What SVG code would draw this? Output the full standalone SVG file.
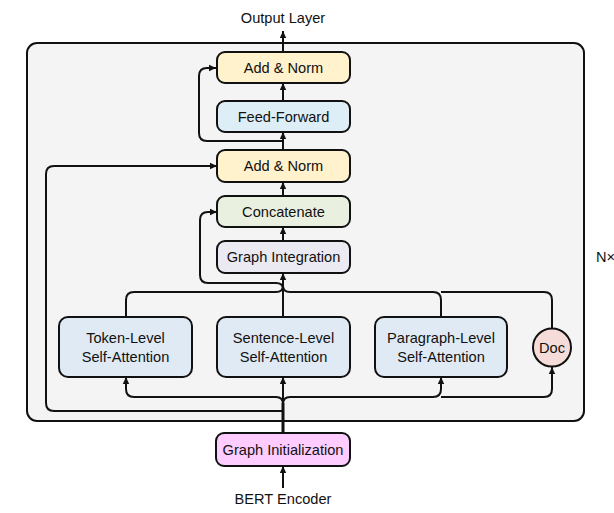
<svg xmlns="http://www.w3.org/2000/svg" width="614" height="513" viewBox="0 0 614 513">
<style>
.box{stroke:#111;stroke-width:2}
.t{font-family:"Liberation Sans",Arial,sans-serif;font-size:14.6px;fill:#111;text-anchor:middle;dominant-baseline:central}
.c{fill:none;stroke:#111;stroke-width:2}
</style>
<defs>
<marker id="ah" markerUnits="userSpaceOnUse" markerWidth="8" markerHeight="8" refX="7" refY="4" orient="auto">
<path d="M0,0.8 L7,4 L0,7.2 z" fill="#111"/>
</marker>
</defs>
<rect id="container" x="27" y="43" width="557" height="378" rx="10" fill="#f4f4f4" stroke="#111" stroke-width="2"/>
<text class="t" x="596" y="257" style="text-anchor:start">N×</text>
<text class="t" x="283" y="18">Output Layer</text>
<text class="t" x="283" y="499">BERT Encoder</text>
<g id="connectors">
<path class="c" d="M283,52 V31" marker-end="url(#ah)"/>
<path class="c" d="M283,101 V83" marker-end="url(#ah)"/>
<path class="c" d="M283,141 H207 Q199,141 199,133 V76 Q199,68 207,68 H216" marker-end="url(#ah)"/>
<path class="c" d="M283,150 V132" marker-end="url(#ah)"/>
<path class="c" d="M283,196 V182" marker-end="url(#ah)"/>
<path class="c" d="M283,241 V227" marker-end="url(#ah)"/>
<path class="c" d="M283,317 V273" marker-end="url(#ah)"/>
<path class="c" d="M283,289 Q283,283 276,283 H208 Q200,283 200,275 V220 Q200,212 208,212 H217" marker-end="url(#ah)"/>
<path class="c" d="M126,317 V300 Q126,292 134,292 H276 Q283,292 283,286"/>
<path class="c" d="M441,317 V300 Q441,292 433,292 H290 Q283,292 283,286"/>
<path class="c" d="M552,328 V300 Q552,292 544,292 H441"/>
<path class="c" d="M283,433 V403" style="stroke-width:3"/>
<path class="c" d="M283,404 V377" marker-end="url(#ah)"/>
<path class="c" d="M283,404 Q283,397 276,397 H134 Q126,397 126,389 V377" marker-end="url(#ah)"/>
<path class="c" d="M283,404 Q283,397 290,397 H433 Q441,397 441,389 V377" marker-end="url(#ah)"/>
<path class="c" d="M441,397 H544 Q552,397 552,389 V367" marker-end="url(#ah)"/>
<path class="c" d="M283,411 H54 Q46,411 46,403 V174 Q46,166 54,166 H217" marker-end="url(#ah)"/>
<path class="c" d="M283,488 V466" marker-end="url(#ah)"/>
</g>
<g id="add-norm-top"><rect class="box" x="217" y="52" width="133" height="31" rx="8" fill="#fff2cc"/><text class="t" x="283.5" y="67.5">Add &amp; Norm</text></g>
<g id="feed-forward"><rect class="box" x="217" y="101" width="133" height="31" rx="8" fill="#ddeef6"/><text class="t" x="283.5" y="116.5">Feed-Forward</text></g>
<g id="add-norm-mid"><rect class="box" x="217" y="150" width="133" height="32" rx="8" fill="#fff2cc"/><text class="t" x="283.5" y="166">Add &amp; Norm</text></g>
<g id="concatenate"><rect class="box" x="217" y="196" width="133" height="31" rx="8" fill="#e9f0df"/><text class="t" x="283.5" y="211.5">Concatenate</text></g>
<g id="graph-integration"><rect class="box" x="217" y="241" width="133" height="32" rx="8" fill="#ebe9f2"/><text class="t" x="283.5" y="257">Graph Integration</text></g>
<g id="token-level"><rect class="box" x="59" y="317" width="133" height="60" rx="9" fill="#dfeaf5"/><text class="t" x="125.5" y="337.5">Token-Level</text><text class="t" x="125.5" y="356.5">Self-Attention</text></g>
<g id="sentence-level"><rect class="box" x="217" y="317" width="133" height="60" rx="9" fill="#dfeaf5"/><text class="t" x="283.5" y="337.5">Sentence-Level</text><text class="t" x="283.5" y="356.5">Self-Attention</text></g>
<g id="paragraph-level"><rect class="box" x="375" y="317" width="132" height="60" rx="9" fill="#dfeaf5"/><text class="t" x="441" y="337.5">Paragraph-Level</text><text class="t" x="441" y="356.5">Self-Attention</text></g>
<g id="doc"><circle class="box" cx="552" cy="347.5" r="19" fill="#f5dcd8"/><text class="t" x="552" y="347.5">Doc</text></g>
<g id="graph-initialization"><rect class="box" x="216" y="433" width="134" height="33" rx="8" fill="#ffccff"/><text class="t" x="283" y="449.5">Graph Initialization</text></g>
</svg>
